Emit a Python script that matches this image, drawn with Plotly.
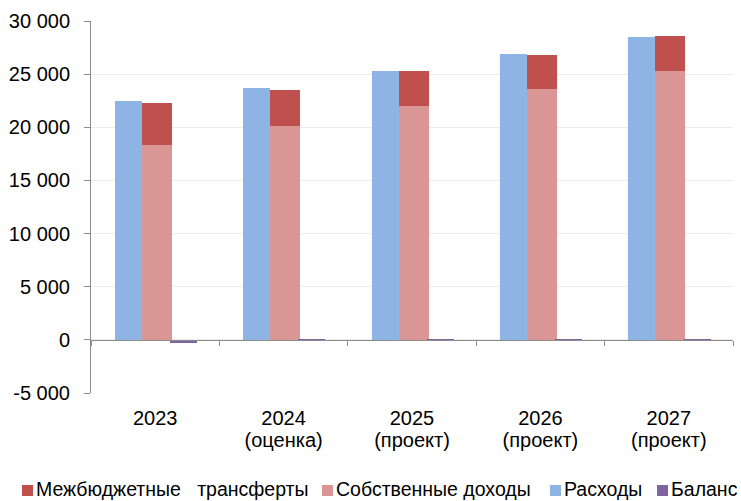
import plotly.graph_objects as go

# ---- data ----
cat_years = ["2023", "2024", "2025", "2026", "2027"]
cat_notes = ["", "(оценка)", "(проект)", "(проект)", "(проект)"]
expenses = [22430, 23740, 25340, 26940, 28530]          # Расходы
own_revenue = [18360, 20140, 22020, 23620, 25250]       # Собственные доходы
transfers = [3880, 3410, 3290, 3170, 3320]              # Межбюджетные трансферты
balance = [-250, -60, -50, -50, -50]                    # Баланс
y_tickvals = [-5000, 0, 5000, 10000, 15000, 20000, 25000, 30000]
y_ticktext = ["-5 000", "0", "5 000", "10 000", "15 000", "20 000", "25 000", "30 000"]
legend_names = ["Межбюджетные\u00a0\u00a0 трансферты", "Собственные доходы", "Расходы", "Баланс"]

# ---- style ----
C_TRANS = "#C0504D"
C_OWN = "#D99694"
C_EXP = "#8EB4E3"
C_BAL = "#8064A2"
FONT = "Liberation Sans, Arial, sans-serif"
W, H = 741, 501
ML, MR, MT, MB = 91, 8, 21, 108
PW, PH = W - ML - MR, H - MT - MB

xs = list(range(len(cat_years)))
cat_labels = []
for yr, note in zip(cat_years, cat_notes):
    lbl = '<span style="font-size:20px">' + yr + '</span>'
    if note:
        lbl += '<br><span style="font-size:20px">' + note + '</span>'
    cat_labels.append(lbl)

fig = go.Figure()
fig.add_trace(go.Bar(x=xs, y=expenses, name="Расходы", marker_color=C_EXP,
                     offset=-0.315, width=0.212, showlegend=False))
fig.add_trace(go.Bar(x=xs, y=own_revenue, name="Собственные доходы", marker_color=C_OWN,
                     offset=-0.105, width=0.235, showlegend=False))
fig.add_trace(go.Bar(x=xs, y=transfers, base=own_revenue, name="Межбюджетные трансферты",
                     marker_color=C_TRANS, offset=-0.105, width=0.235, showlegend=False))
fig.add_trace(go.Bar(x=xs, y=balance, name="Баланс", marker_color=C_BAL,
                     offset=0.115, width=0.21, showlegend=False))
for tr in fig.data:
    tr.marker.line.width = 0

ymin, ymax = -5000, 30000
fig.update_layout(
    width=W, height=H,
    margin=dict(l=ML, r=MR, t=MT, b=MB, pad=0),
    paper_bgcolor="white", plot_bgcolor="white",
    barmode="overlay", bargap=0,
    font=dict(family=FONT, size=20, color="#000000"),
    showlegend=False,
    xaxis=dict(range=[-0.5, 4.5], tickvals=xs, ticktext=cat_labels, showgrid=False,
               zeroline=False, showline=False, ticks="", ticklabelstandoff=14,
               tickfont=dict(size=17)),
    xaxis2=dict(overlaying="x", anchor="free", position=(0 - ymin) / (ymax - ymin),
                range=[-0.5, 4.5], tickvals=[i - 0.5 for i in range(len(cat_years) + 1)],
                showticklabels=False, ticks="outside", ticklen=5, tickcolor="#8c8c8c",
                showline=True, linecolor="#8c8c8c", linewidth=1, showgrid=False, zeroline=False),
    yaxis=dict(range=[ymin, ymax], tickvals=y_tickvals, ticktext=y_ticktext,
               showgrid=True, gridcolor="#ececec", gridwidth=1, zeroline=False,
               showline=True, linecolor="#8c8c8c", ticks="outside", ticklen=6,
               tickcolor="#8c8c8c", ticklabelstandoff=10, tickfont=dict(size=20)),
)

# dummy trace so that xaxis2 is rendered
fig.add_trace(go.Scatter(x=[None], y=[None], xaxis="x2", yaxis="y", showlegend=False, hoverinfo="skip"))

def px_x(p):
    return (p - ML) / PW

def px_y(p):
    return (MT + PH - p) / PH

# legend (drawn manually: it runs to the right edge like in the reference)
legend_colors = [C_TRANS, C_OWN, C_EXP, C_BAL]
swatch_px = [22, 322, 550, 657]
for name, col, sx in zip(legend_names, legend_colors, swatch_px):
    fig.add_shape(type="rect", xref="paper", yref="paper",
                  x0=px_x(sx), x1=px_x(sx + 11), y0=px_y(496), y1=px_y(485),
                  fillcolor=col, line=dict(width=0))
    fig.add_annotation(xref="paper", yref="paper", x=px_x(sx + 12), y=px_y(489.5),
                       xanchor="left", yanchor="middle", text=name, showarrow=False,
                       font=dict(family=FONT, size=19.5, color="#000000"))

fig.write_html("out.html")
